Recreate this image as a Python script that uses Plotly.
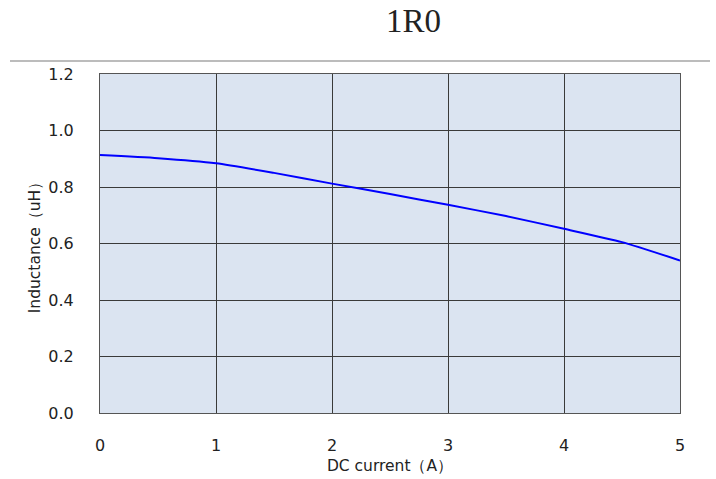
import plotly.graph_objects as go

# Data
current_a = [0, 0.5, 1.0, 1.5, 2.0, 2.5, 3.0, 3.5, 4.0, 4.5, 5.0]
inductance_uh = [0.913, 0.902, 0.884, 0.850, 0.812, 0.775, 0.737, 0.697, 0.652, 0.605, 0.540]
x_ticks = [0, 1, 2, 3, 4, 5]
y_ticks = [0.0, 0.2, 0.4, 0.6, 0.8, 1.0, 1.2]
y_tick_text = ["0.0", "0.2", "0.4", "0.6", "0.8", "1.0", "1.2"]

fig = go.Figure()
fig.add_trace(go.Scatter(
    x=current_a, y=inductance_uh, mode="lines",
    line=dict(color="#0000ff", width=2, shape="spline", smoothing=0.6),
    showlegend=False, hoverinfo="skip",
))

# plot area targets x 100..680, y 74..413 (page body margin removed)
L, R, T, B = 100, 36, 74, 66
W, H = 716, 479
plot_w = W - L - R
plot_h = H - T - B
ox, oy = L, T + plot_h  # pixel of paper (0,0)

def px(x):
    return (x - ox) / plot_w

def py(y):
    return (oy - y) / plot_h

font = "DejaVu Sans"
fig.update_layout(
    width=W, height=H,
    margin=dict(l=L, r=R, t=T, b=B, autoexpand=False),
    paper_bgcolor="white", plot_bgcolor="#dbe4f1",
    font=dict(family=font, size=16, color="#222222"),
    showlegend=False,
    annotations=[dict(
        text="1R0", x=px(413.5), xref="paper", y=py(21), yref="paper",
        showarrow=False, font=dict(family="Liberation Serif", size=33, color="#222222"),
        xanchor="center", yanchor="middle",
    )],
)

fig.add_shape(type="line", xref="paper", yref="paper",
              x0=px(10), x1=px(710), y0=py(61), y1=py(61),
              line=dict(color="#a6a6a6", width=1.5))

fig.update_xaxes(
    range=[0, 5], tickvals=x_ticks, showgrid=True, gridcolor="#3a3a3a", gridwidth=1,
    zeroline=False, showline=True, linecolor="#555555", linewidth=1, mirror=True,
    ticks="", ticklabelstandoff=18, tickfont=dict(size=16), automargin=False,
    title=dict(text="DC current（A）", font=dict(size=15.5), standoff=5),
    fixedrange=True,
)
fig.update_yaxes(
    range=[0, 1.2], tickvals=y_ticks, ticktext=y_tick_text, showgrid=True,
    gridcolor="#3a3a3a", gridwidth=1,
    zeroline=False, showline=True, linecolor="#555555", linewidth=1, mirror=True,
    ticks="", ticklabelstandoff=22, tickfont=dict(size=16), automargin=False,
    title=dict(text="Inductance（uH）", font=dict(size=15.5), standoff=3),
    fixedrange=True,
)

fig.write_html(
    "out.html",
    config={"displayModeBar": False, "staticPlot": True},
    post_script="document.body.style.margin='0';document.documentElement.style.overflow='hidden';",
)
